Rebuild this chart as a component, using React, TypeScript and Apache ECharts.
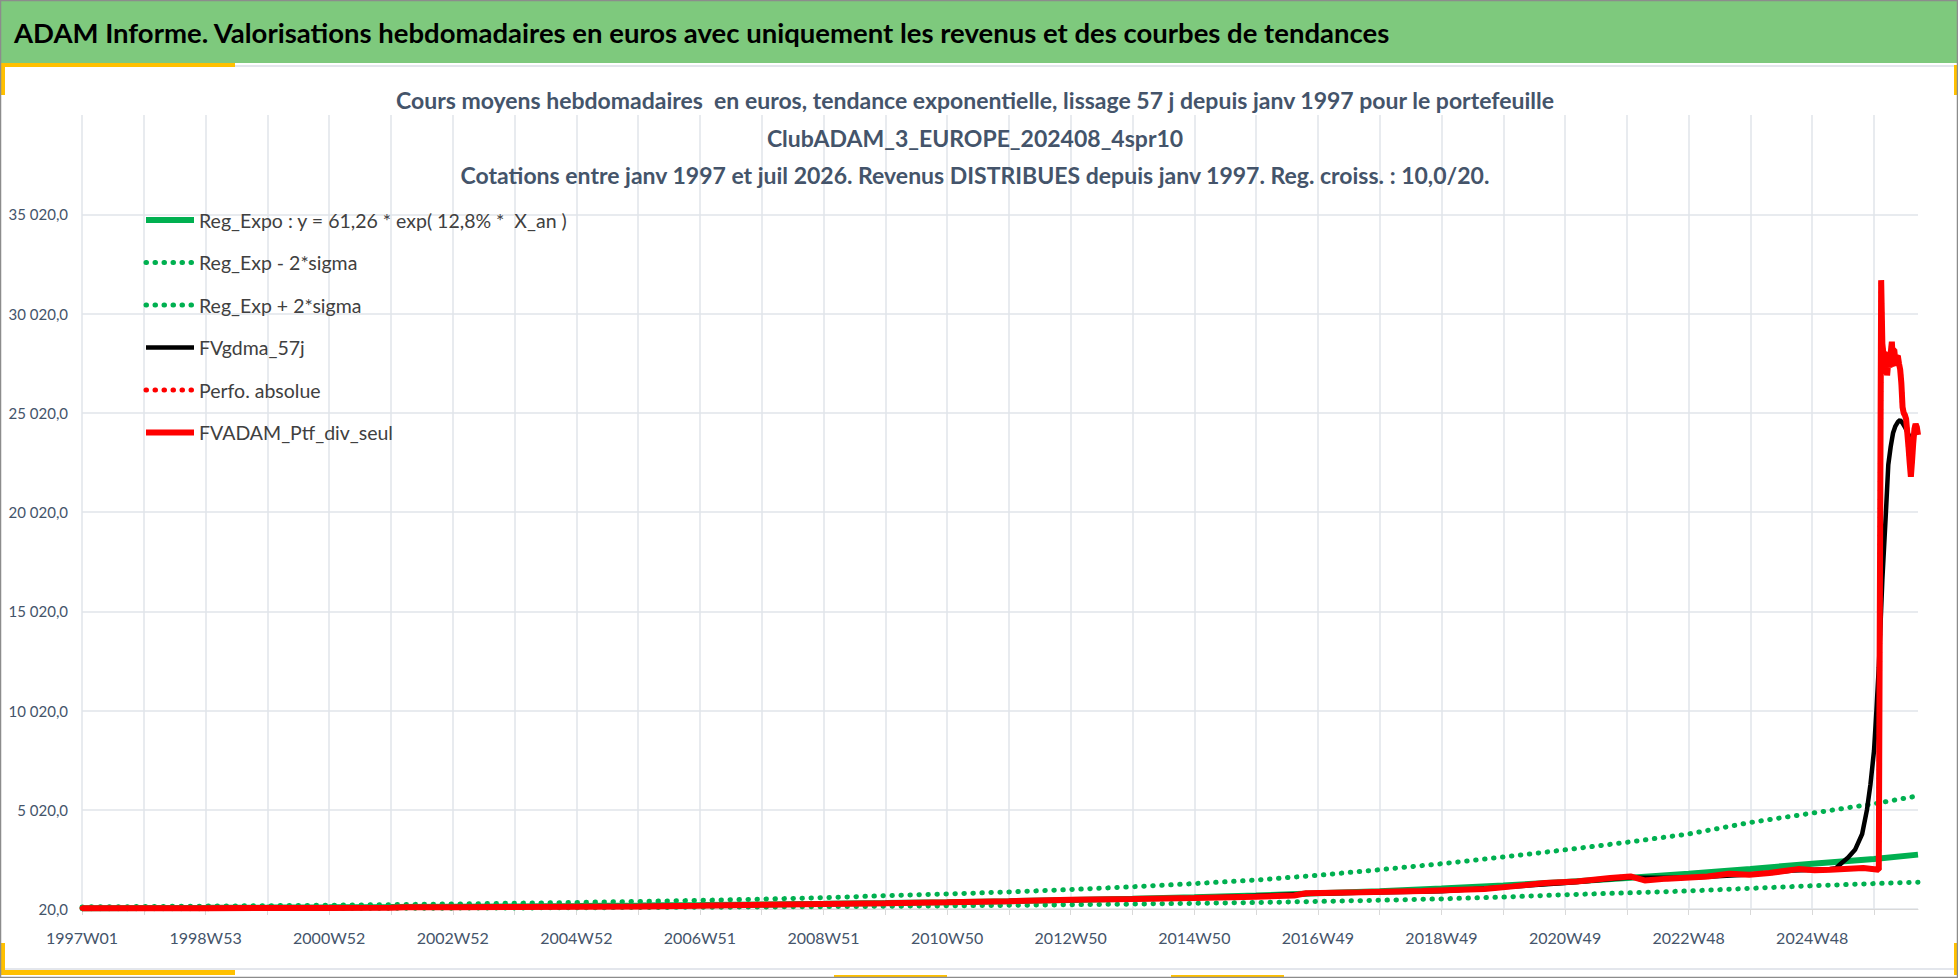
import React, { useEffect, useRef } from 'react'
import * as echarts from 'echarts'

// x axis is a week index counted from 1997W01; a label every 104 weeks
const xTickLabels = [
  '1997W01', '1998W53', '2000W52', '2002W52', '2004W52', '2006W51', '2008W51', '2010W50',
  '2012W50', '2014W50', '2016W49', '2018W49', '2020W49', '2022W48', '2024W48',
]
const lastWeek = 1545

const headerText =
  'ADAM Informe. Valorisations hebdomadaires en euros avec uniquement les revenus et des courbes de tendances'
const titleLines = [
  'Cours moyens hebdomadaires  en euros, tendance exponentielle, lissage 57 j depuis janv 1997 pour le portefeuille',
  'ClubADAM_3_EUROPE_202408_4spr10',
  'Cotations entre janv 1997 et juil 2026. Revenus DISTRIBUES depuis janv 1997. Reg. croiss. : 10,0/20.',
]

const seriesNames = [
  'Reg_Expo : y = 61,26 * exp( 12,8% *  X_an )',
  'Reg_Exp - 2*sigma',
  'Reg_Exp + 2*sigma',
  'FVgdma_57j',
  'Perfo. absolue',
  'FVADAM_Ptf_div_seul',
]

// trend curves, read every 52 weeks
const trendWeeks = [
  0, 52, 104, 156, 208, 260, 312, 364, 416, 468, 520, 572, 624, 676, 728, 780, 832, 884, 936, 988,
  1040, 1092, 1144, 1196, 1248, 1300, 1352, 1404, 1456, 1508, 1545,
]
const regExpo = [
  61, 70, 79, 90, 102, 116, 132, 150, 170, 193, 219, 249, 283, 322, 365, 415, 472, 536, 609, 700,
  810, 920, 1050, 1200, 1380, 1580, 1800, 2040, 2300, 2540, 2760,
]
const regMinus2Sigma = [
  30, 34, 38, 44, 50, 57, 64, 73, 83, 94, 107, 122, 138, 157, 180, 205, 235, 268, 305, 345,
  400, 460, 530, 620, 740, 830, 930, 1060, 1190, 1300, 1370,
]
const regPlus2Sigma = [
  126, 144, 164, 186, 211, 240, 273, 310, 352, 400, 455, 517, 588, 690, 775, 880, 1000, 1140, 1300, 1480,
  1720, 2000, 2300, 2640, 3000, 3380, 3800, 4380, 4850, 5320, 5720,
]

// portfolio value (red)
const ptfWeeks = [
  0, 52, 104, 156, 208, 260, 272, 312, 364, 416, 468, 520, 572, 624, 676, 728, 780, 832, 884, 936,
  988, 1020, 1030, 1077, 1128, 1180, 1204, 1231, 1258, 1286, 1303, 1315, 1334, 1368, 1386, 1403, 1420, 1444, 1458, 1471,
  1499, 1512, 1514, 1515, 1516, 1517, 1518, 1519, 1520, 1521, 1522, 1523, 1524, 1525, 1526, 1527, 1528, 1529, 1530, 1531,
  1532, 1533, 1534, 1535, 1536, 1537, 1538, 1539, 1540, 1541, 1542, 1543, 1544, 1545,
]
const ptfValues = [
  55, 60, 64, 68, 76, 86, 104, 110, 120, 135, 150, 185, 230, 275, 310, 355, 410, 480, 520, 575,
  640, 700, 810, 860, 925, 1030, 1160, 1330, 1410, 1580, 1660, 1460, 1550, 1660, 1800, 1750, 1830, 2030, 1970, 2000,
  2080, 2000, 31700, 28500, 27900, 27000, 28000, 26900, 27600, 27300, 28000, 28600, 27400, 28200, 27600, 27400, 27900, 27500, 27200, 26500,
  25300, 25000, 24900, 24700, 24000, 23300, 22500, 21800, 22600, 23500, 24200, 24450, 24300, 23900,
]

// 57-day smoothed value (black)
const gdmaWeeks = [
  0, 104, 208, 312, 416, 520, 624, 728, 832, 936, 1040, 1144, 1248, 1300, 1352, 1404, 1440, 1470, 1476, 1480,
  1486, 1492, 1498, 1502, 1505, 1508, 1510, 1512, 1515, 1518, 1520, 1522, 1524, 1526, 1528, 1530, 1532, 1534, 1536, 1538,
  1540,
]
const gdmaValues = [
  55, 64, 76, 108, 133, 182, 272, 352, 476, 572, 800, 910, 1330, 1600, 1600, 1760, 1960, 2020, 2080, 2300,
  2600, 3000, 3800, 5000, 6300, 8000, 10000, 12200, 16600, 20000, 22400, 23300, 24000, 24350, 24550, 24650, 24500, 24300, 24050, 23800,
  23700,
]

const pairs = (xs: number[], ys: number[]) => xs.map((x, i) => [x, ys[i]])

const formatEuro = (v: number) => Math.round(v).toString().replace(/\B(?=(\d{3})+(?!\d))/g, ' ') + ',0'

const GREEN = '#00B050'
const RED = '#FF0000'
const YELLOW = '#FFC000'
const SLATE = '#44546A'
const GRID = '#E1E4EA'

const App: React.FC = () => {
  const containerRef = useRef<HTMLDivElement>(null)

  useEffect(() => {
    document.body.style.margin = '0'
    if (!containerRef.current) return
    const chart = echarts.init(containerRef.current, undefined, { renderer: 'svg' })

    const dotted = (color: string) => ({ color, width: 5, type: [0.5, 8.5] as number[], cap: 'round' as const })

    const option: echarts.EChartsOption = {
      animation: false,
      backgroundColor: '#ffffff',
      textStyle: { fontFamily: 'Lato' },
      grid: { left: 82, right: 40, top: 115, bottom: 69 },
      legend: {
        orient: 'vertical',
        left: 143,
        top: 210,
        padding: 0,
        itemWidth: 48,
        itemHeight: 14,
        itemGap: 22.5,
        itemStyle: { opacity: 0 },
        lineStyle: { width: 'inherit' as any },
        textStyle: { color: '#404040', fontSize: 19.5, fontFamily: 'Lato' },
        data: seriesNames,
      },
      xAxis: {
        type: 'value',
        min: 0,
        max: lastWeek,
        interval: 52,
        axisLine: { show: true, lineStyle: { color: '#D9D9D9', width: 1 } },
        axisTick: { show: true, length: 6, lineStyle: { color: '#D9D9D9' } },
        splitLine: { show: true, showMaxLine: false, lineStyle: { color: GRID, width: 1.5 } },
        axisLabel: {
          margin: 20,
          fontSize: 16,
          color: SLATE,
          fontFamily: 'Lato',
          showMaxLabel: false,
          formatter: (v: number) => (v % 104 === 0 ? xTickLabels[v / 104] ?? '' : ''),
        },
      },
      yAxis: {
        type: 'value',
        min: 20,
        max: 40020,
        interval: 5000,
        axisLine: { show: false },
        axisTick: { show: false },
        splitLine: { show: true, showMaxLine: false, lineStyle: { color: GRID, width: 1.5 } },
        axisLabel: {
          margin: 14,
          fontSize: 15,
          color: SLATE,
          fontFamily: 'Lato',
          showMaxLabel: false,
          formatter: (v: number) => formatEuro(v),
        },
      },
      series: [
        {
          name: seriesNames[0],
          type: 'line',
          symbol: 'none',
          data: pairs(trendWeeks, regExpo),
          lineStyle: { color: GREEN, width: 6 },
          itemStyle: { color: GREEN },
        },
        {
          name: seriesNames[1],
          type: 'line',
          symbol: 'none',
          data: pairs(trendWeeks, regMinus2Sigma),
          lineStyle: dotted(GREEN),
          itemStyle: { color: GREEN },
        },
        {
          name: seriesNames[2],
          type: 'line',
          symbol: 'none',
          data: pairs(trendWeeks, regPlus2Sigma),
          lineStyle: dotted(GREEN),
          itemStyle: { color: GREEN },
        },
        {
          name: seriesNames[3],
          type: 'line',
          symbol: 'none',
          data: pairs(gdmaWeeks, gdmaValues),
          lineStyle: { color: '#000000', width: 4.5 },
          itemStyle: { color: '#000000' },
        },
        {
          name: seriesNames[4],
          type: 'line',
          symbol: 'none',
          data: pairs(ptfWeeks, ptfValues),
          lineStyle: dotted(RED),
          itemStyle: { color: RED },
        },
        {
          name: seriesNames[5],
          type: 'line',
          symbol: 'none',
          data: pairs(ptfWeeks, ptfValues),
          lineStyle: { color: RED, width: 6 },
          itemStyle: { color: RED },
        },
      ],
      graphic: [
        { type: 'rect', shape: { x: 0, y: 0, width: 1958, height: 63 }, style: { fill: '#7EC97D' }, z: 10 },
        {
          type: 'text',
          x: 14,
          y: 32,
          z: 11,
          style: { text: headerText, fill: '#000000', font: 'bold 27.5px Lato', verticalAlign: 'middle' },
        },
        { type: 'rect', shape: { x: 0, y: 65, width: 1958, height: 2 }, style: { fill: '#E3E6EC' }, z: 10 },
        { type: 'rect', shape: { x: 0, y: 968, width: 1958, height: 2 }, style: { fill: '#E3E6EC' }, z: 10 },
        // yellow accents of the frame
        { type: 'rect', shape: { x: 0, y: 63, width: 235, height: 4 }, style: { fill: YELLOW }, z: 11 },
        { type: 'rect', shape: { x: 0, y: 63, width: 5, height: 32 }, style: { fill: YELLOW }, z: 11 },
        { type: 'rect', shape: { x: 1954, y: 65, width: 3, height: 30 }, style: { fill: YELLOW }, z: 11 },
        { type: 'rect', shape: { x: 0, y: 970, width: 235, height: 5 }, style: { fill: YELLOW }, z: 11 },
        { type: 'rect', shape: { x: 0, y: 943, width: 5, height: 32 }, style: { fill: YELLOW }, z: 11 },
        { type: 'rect', shape: { x: 1954, y: 943, width: 3, height: 32 }, style: { fill: YELLOW }, z: 11 },
        { type: 'rect', shape: { x: 834, y: 975, width: 113, height: 2 }, style: { fill: YELLOW }, z: 11 },
        { type: 'rect', shape: { x: 1171, y: 975, width: 113, height: 2 }, style: { fill: YELLOW }, z: 11 },
        {
          type: 'rect',
          shape: { x: 0.5, y: 0.5, width: 1957, height: 977 },
          style: { fill: 'none', stroke: '#8C8C8C', lineWidth: 1.5 },
          z: 12,
        },
        ...titleLines.map((t, i) => ({
          type: 'text' as const,
          x: 975,
          y: 100 + i * 37.5,
          z: 11,
          style: { text: t, fill: SLATE, font: 'bold 23px Lato', align: 'center' as const, verticalAlign: 'middle' as const },
        })),
      ],
    }

    chart.setOption(option)

    return () => {
      chart.dispose()
    }
  }, [])

  return <div ref={containerRef} style={{ width: 1958, height: 978 }} />
}

export default App
